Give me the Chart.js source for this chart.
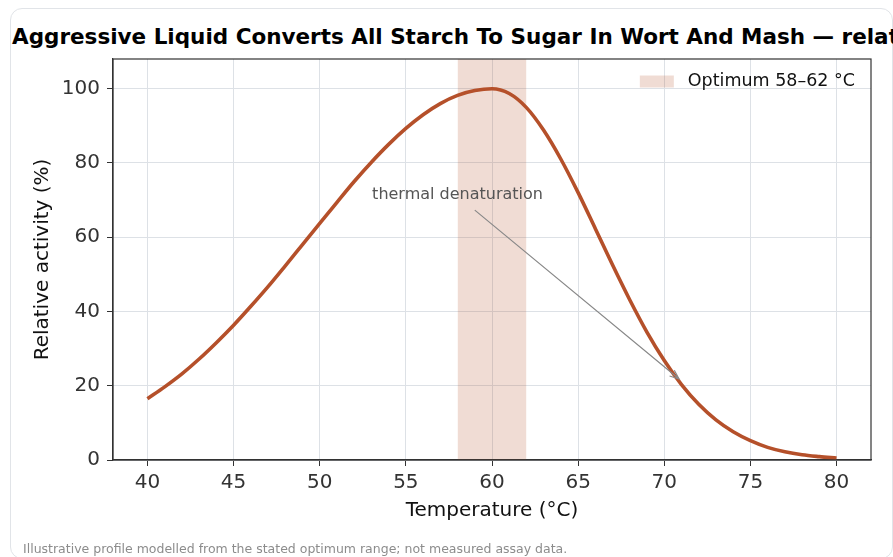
<!DOCTYPE html>
<html>
<head>
<meta charset="utf-8">
<script src="https://cdn.jsdelivr.net/npm/chart.js@4.4.1/dist/chart.umd.min.js"></script>
<style>
html, body { margin: 0; padding: 0; background: #fff; }
#wrap { position: relative; width: 893px; height: 557px; overflow: hidden; }
#card { position: absolute; left: 10px; top: 8px; width: 883px; height: 551px; box-sizing: border-box;
        border: 1px solid #e1e4e8; border-radius: 12px; }
#month { position: absolute; left: 0; top: 0; }
#title { position: absolute; left: 12px; top: 25px; font: bold 21.5px/24px "DejaVu Sans"; color: #000; white-space: nowrap; }
#note { position: absolute; left: 23px; top: 542px; font: 12.5px/14px "DejaVu Sans"; color: #8c8c8c; white-space: nowrap; }
</style>
</head>
<body>
<div id="wrap">
  <div id="card"></div>
  <div id="title">Aggressive Liquid Converts All Starch To Sugar In Wort And Mash — relative enzyme activity by temperature</div>
  <canvas id="month" width="893" height="557"></canvas>
  <div id="note">Illustrative profile modelled from the stated optimum range; not measured assay data.</div>
</div>
<script>
// donnees
var temps = [40, 41, 42, 43, 44, 45, 46, 47, 48, 49, 50, 51, 52, 53, 54, 55, 56, 57, 58, 59, 60,
             61, 62, 63, 64, 65, 66, 67, 68, 69, 70, 71, 72, 73, 74, 75, 76, 77, 78, 79, 80];
var activity = [16.5, 19.7, 23.2, 27.2, 31.6, 36.3, 41.4, 46.7, 52.3, 58.0, 63.7, 69.4, 75.0, 80.2, 85.0, 89.3, 93.0, 96.0, 98.2, 99.5, 100,
                98.7, 94.9, 88.8, 81.0, 72.0, 62.3, 52.5, 43.1, 34.4, 26.8, 20.3, 15.0, 10.8, 7.6, 5.2, 3.4, 2.2, 1.4, 0.9, 0.5];
var optimumRange = [58, 62];
var xTicks = [40, 45, 50, 55, 60, 65, 70, 75, 80];
var yTicks = [0, 20, 40, 60, 80, 100];
var yTop = 108;
var annotText = "thermal denaturation";
var annotTextAt = [58.0, 71.4];
var annotTail = [59.0, 67.3];
var annotHead = [70.86, 21.8];

var rust = "#b5502a";
var font = "DejaVu Sans";

var curve = [];
for (var i = 0; i < temps.length; i++) {
  curve.push({x: temps[i], y: activity[i]});
}
var band = [{x: optimumRange[0], y: yTop}, {x: optimumRange[1], y: yTop}];

// cadre complet, legende et annotation
var extras = {
  id: "extras",
  afterDatasetsDraw: function(chart) {
    var ctx = chart.ctx, a = chart.chartArea;
    var xs = chart.scales.x, ys = chart.scales.y;
    ctx.save();
    ctx.strokeStyle = "#333";
    ctx.lineWidth = 1.2;
    ctx.strokeRect(a.left, a.top, a.right - a.left, a.bottom - a.top);

    // legende en haut a droite
    var ds = chart.data.datasets[1];
    ctx.font = "17.5px '" + font + "'";
    var tw = ctx.measureText(ds.label).width;
    var tx = a.right - 16 - tw;
    var ty = a.top + 22.5;
    ctx.fillStyle = ds.backgroundColor;
    ctx.fillRect(tx - 14 - 34, ty - 6, 34, 12);
    ctx.fillStyle = "#111";
    ctx.textAlign = "left";
    ctx.textBaseline = "middle";
    ctx.fillText(ds.label, tx, ty);

    // fleche
    var x1 = xs.getPixelForValue(annotTail[0]), y1 = ys.getPixelForValue(annotTail[1]);
    var x2 = xs.getPixelForValue(annotHead[0]), y2 = ys.getPixelForValue(annotHead[1]);
    ctx.strokeStyle = "#888";
    ctx.lineWidth = 1.2;
    ctx.beginPath();
    ctx.moveTo(x1, y1);
    ctx.lineTo(x2, y2);
    var ang = Math.atan2(y2 - y1, x2 - x1);
    ctx.moveTo(x2 - 10 * Math.cos(ang - 0.38), y2 - 10 * Math.sin(ang - 0.38));
    ctx.lineTo(x2, y2);
    ctx.lineTo(x2 - 10 * Math.cos(ang + 0.38), y2 - 10 * Math.sin(ang + 0.38));
    ctx.stroke();

    ctx.fillStyle = "#555";
    ctx.font = "16px '" + font + "'";
    ctx.textAlign = "center";
    ctx.fillText(annotText, xs.getPixelForValue(annotTextAt[0]), ys.getPixelForValue(annotTextAt[1]));
    ctx.restore();
  }
};

var ctx = document.getElementById("month");
var myChart = new Chart(ctx, {
  type: "line",
  data: {
    datasets: [{
      label: "Relative activity",
      data: curve,
      borderColor: rust,
      borderWidth: 3.6,
      pointRadius: 0,
      fill: false,
      cubicInterpolationMode: "monotone",
      order: 0
    }, {
      label: "Optimum 58–62 °C",
      data: band,
      borderColor: "rgba(0,0,0,0)",
      borderWidth: 0,
      backgroundColor: "rgba(181,80,42,0.2)",
      pointRadius: 0,
      fill: "origin",
      tension: 0,
      order: 1
    }]
  },
  options: {
    responsive: false,
    animation: false,
    devicePixelRatio: 1,
    layout: {padding: {left: 12, right: 22, top: 59, bottom: 0}},
    plugins: {
      title: {display: false},
      legend: {display: false},
      tooltip: {enabled: false}
    },
    scales: {
      x: {
        type: "linear",
        min: 38,
        max: 82,
        afterBuildTicks: function(s) { s.ticks = xTicks.map(function(v) { return {value: v}; }); },
        afterFit: function(s) { s.height = 97; },
        grid: {color: "#dde1e6", lineWidth: 1, tickColor: "#333", tickLength: 6},
        border: {display: true, color: "#333", width: 1.2},
        ticks: {color: "#333", font: {family: font, size: 20}, padding: 5, maxRotation: 0},
        title: {display: true, text: "Temperature (°C)", color: "#111",
                font: {family: font, size: 20}, padding: {top: 0, bottom: 34}}
      },
      y: {
        min: 0,
        max: yTop,
        afterBuildTicks: function(s) { s.ticks = yTicks.map(function(v) { return {value: v}; }); },
        afterFit: function(s) { s.width = 101; },
        grid: {color: "#dde1e6", lineWidth: 1, tickColor: "#333", tickLength: 6},
        border: {display: true, color: "#333", width: 1.2},
        ticks: {color: "#333", font: {family: font, size: 20}, padding: 7},
        title: {display: true, text: "Relative activity (%)", color: "#111",
                font: {family: font, size: 20}, padding: {top: 19, bottom: 0}}
      }
    }
  },
  plugins: [extras]
});
</script>
</body>
</html>
